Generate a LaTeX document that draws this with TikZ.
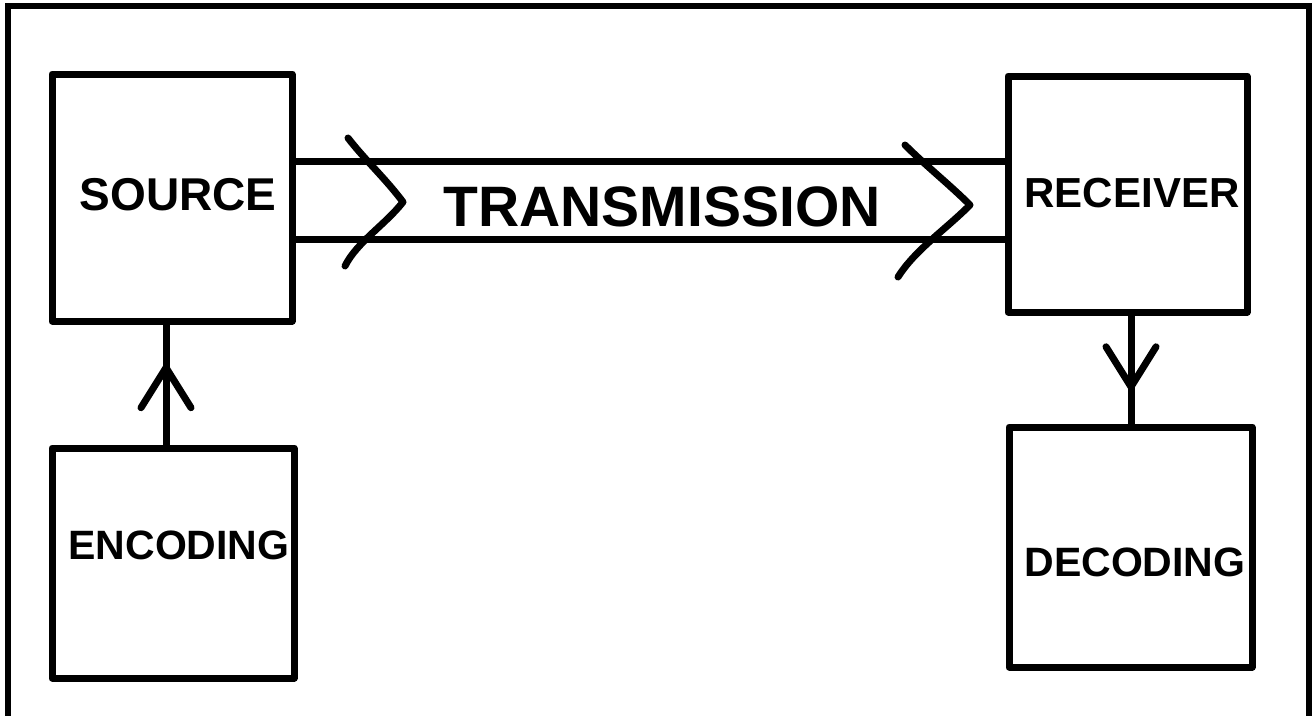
\documentclass[tikz,border=0pt]{standalone}
\usepackage{fontspec}
\setmainfont{Liberation Sans}
\usetikzlibrary{decorations.markings}
\begin{document}
\begin{tikzpicture}[x=1pt,y=-1pt,
  box/.style={draw,rectangle,line width=7pt,inner sep=0pt,line join=round},
  lbl/.style={inner sep=0pt},
  conn/.style={line width=7pt},
  stroke/.style={line width=7pt,line cap=round,line join=round},
  frame/.style={line width=6pt},
  midV/.style={postaction=decorate,decoration={markings,
     mark=at position #1 with {\draw[stroke] (-40,-25) -- (0,0) -- (-40,25);}}}
]
\useasboundingbox (0,0) rectangle (1313,715);
\draw[frame] (8,725) -- (8,6) -- (1309,6) -- (1309,725);

\node[box,minimum width=240pt,minimum height=247pt] (src) at (172,197.5) {};
\node[box,minimum width=239pt,minimum height=236pt] (rcv) at (1127.5,194) {};
\node[box,minimum width=242pt,minimum height=230pt] (enc) at (173,563) {};
\node[box,minimum width=243pt,minimum height=240pt] (dec) at (1130.5,547) {};

\node[lbl,font=\fontsize{46pt}{50pt}\selectfont\bfseries] (srct) at (178,195) {SOURCE};
\node[lbl,font=\fontsize{42pt}{46pt}\selectfont\bfseries] (rcvt) at (1132,193) {RECEIVER};
\node[lbl,font=\fontsize{41pt}{45pt}\selectfont\bfseries] (enct) at (179,545) {ENCODING};
\node[lbl,font=\fontsize{41pt}{45pt}\selectfont\bfseries] (dect) at (1135,562) {DECODING};
\node[lbl,font=\fontsize{57pt}{60pt}\selectfont\bfseries] (trt) at (662,207) {TRANSMISSION};

\coordinate (t1) at (0,161);
\coordinate (t2) at (0,239);
\draw[conn] (src.east |- t1) -- (rcv.west |- t1);
\draw[conn] (src.east |- t2) -- (rcv.west |- t2);

\draw[stroke] (348,138) .. controls (365,160) and (385,178) .. (403,202)
  .. controls (385,225) and (357,242) .. (345,266);
\draw[stroke] (905,145) .. controls (925,165) and (950,185) .. (970,205)
  .. controls (945,230) and (915,250) .. (898,277);

\coordinate (ax) at (166,0);
\coordinate (bx) at (1131,0);
\draw[conn,midV=0.64] (enc.north -| ax) -- (src.south -| ax);
\draw[conn,midV=0.66] (rcv.south -| bx) -- (dec.north -| bx);
\end{tikzpicture}
\end{document}
